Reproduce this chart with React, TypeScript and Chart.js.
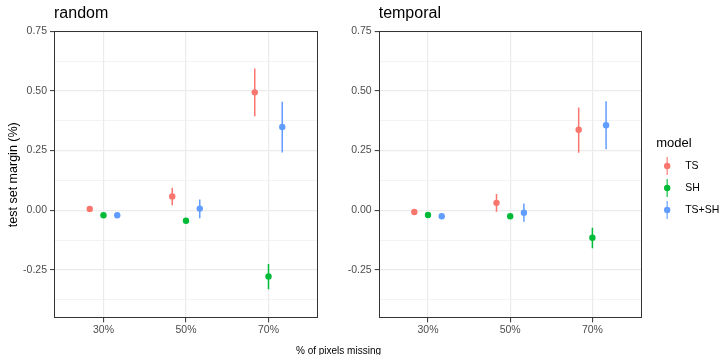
import React, { useEffect, useRef } from "react";
import { Chart, registerables } from "chart.js";

Chart.register(...registerables);

// ---------- data ----------
const categories = ["30%", "50%", "70%"];
const models = ["TS", "SH", "TS+SH"];
const yTickValues = [-0.25, 0, 0.25, 0.5, 0.75];

// panel "random"
const randomTS = [0.005, 0.058, 0.494];
const randomTSLow = [-0.004, 0.021, 0.394];
const randomTSHigh = [0.014, 0.094, 0.594];
const randomSH = [-0.021, -0.044, -0.277];
const randomSHLow = [-0.029, -0.052, -0.331];
const randomSHHigh = [-0.013, -0.036, -0.225];
const randomTSSH = [-0.021, 0.007, 0.349];
const randomTSSHLow = [-0.029, -0.033, 0.242];
const randomTSSHHigh = [-0.013, 0.045, 0.455];

// panel "temporal"
const temporalTS = [-0.007, 0.031, 0.337];
const temporalTSLow = [-0.015, -0.006, 0.241];
const temporalTSHigh = [0.001, 0.068, 0.431];
const temporalSH = [-0.02, -0.025, -0.115];
const temporalSHLow = [-0.028, -0.033, -0.159];
const temporalSHHigh = [-0.012, -0.017, -0.073];
const temporalTSSH = [-0.025, -0.01, 0.356];
const temporalTSSHLow = [-0.033, -0.048, 0.256];
const temporalTSSHHigh = [-0.017, 0.028, 0.457];

// ---------- style ----------
const FONT = '"Liberation Sans", Arial, Helvetica, sans-serif';
const COLORS = ["#F8766D", "#00BA38", "#619CFF"];
const DODGE = [-1 / 6, 0, 1 / 6];
const Y_MIN = -0.453;
const Y_MAX = 0.751;

const yAllTicks = (() => {
  const out: number[] = [];
  yTickValues.forEach((v) => {
    const m = v - 0.125;
    if (m >= Y_MIN) out.push(m);
    out.push(v);
  });
  return out;
})();
const isMajorY = (v: number) => yTickValues.some((t) => Math.abs(t - v) < 1e-9);

function buildDatasets(means: number[][], lows: number[][], highs: number[][]) {
  return models.map((m, mi) => ({
    label: m,
    data: categories.map((_, ci) => ({
      x: ci + 1 + DODGE[mi],
      y: means[mi][ci],
      low: lows[mi][ci],
      high: highs[mi][ci],
    })),
    backgroundColor: COLORS[mi],
    borderColor: COLORS[mi],
    borderWidth: 0,
    pointRadius: 3.2,
    pointHoverRadius: 3.2,
  }));
}

const errorBarsPlugin = {
  id: "errorBars",
  beforeDatasetsDraw(chart: any) {
    const { ctx, chartArea, scales } = chart;
    const x = scales.x;
    const y = scales.y;
    ctx.save();
    ctx.beginPath();
    ctx.rect(chartArea.left, chartArea.top, chartArea.right - chartArea.left, chartArea.bottom - chartArea.top);
    ctx.clip();
    chart.data.datasets.forEach((ds: any) => {
      ctx.strokeStyle = ds.borderColor;
      ctx.lineWidth = 1.5;
      ds.data.forEach((p: any) => {
        const px = x.getPixelForValue(p.x);
        ctx.beginPath();
        ctx.moveTo(px, y.getPixelForValue(p.low));
        ctx.lineTo(px, y.getPixelForValue(p.high));
        ctx.stroke();
      });
    });
    ctx.restore();
  },
};

const borderPlugin = {
  id: "panelBorder",
  afterDatasetsDraw(chart: any) {
    const { ctx, chartArea } = chart;
    ctx.save();
    ctx.strokeStyle = "#333333";
    ctx.lineWidth = 1;
    ctx.strokeRect(
      Math.round(chartArea.left) + 0.5,
      Math.round(chartArea.top) + 0.5,
      Math.round(chartArea.right - chartArea.left) - 1,
      Math.round(chartArea.bottom - chartArea.top) - 1
    );
    ctx.restore();
  },
};

const xTitlePlugin = {
  id: "xTitle",
  afterDraw(chart: any) {
    const { ctx } = chart;
    ctx.save();
    ctx.fillStyle = "#000000";
    ctx.font = `10px ${FONT}`;
    ctx.textAlign = "center";
    ctx.textBaseline = "alphabetic";
    ctx.fillText("% of pixels missing", 338.5, 354);
    ctx.restore();
  },
};

const legendPlugin = {
  id: "ggLegend",
  afterDraw(chart: any) {
    const { ctx, chartArea } = chart;
    const x0 = chartArea.right + 14.5;
    const titleY = 143;
    ctx.save();
    ctx.fillStyle = "#000000";
    ctx.font = `13px ${FONT}`;
    ctx.textAlign = "left";
    ctx.textBaseline = "middle";
    ctx.fillText("model", x0, titleY);
    chart.data.datasets.forEach((ds: any, i: number) => {
      const cy = 166 + i * 22;
      const kx = x0 + 11;
      ctx.globalAlpha = 0.75;
      ctx.strokeStyle = ds.borderColor;
      ctx.lineWidth = 1.5;
      ctx.beginPath();
      ctx.moveTo(kx, cy - 9);
      ctx.lineTo(kx, cy + 9);
      ctx.stroke();
      ctx.globalAlpha = 1;
      ctx.fillStyle = ds.backgroundColor;
      ctx.beginPath();
      ctx.arc(kx, cy, 3.2, 0, Math.PI * 2);
      ctx.fill();
      ctx.fillStyle = "#000000";
      ctx.font = `10.5px ${FONT}`;
      ctx.fillText(ds.label, x0 + 29, cy);
    });
    ctx.restore();
  },
};

function makeOptions(title: string, yAxisWidth: number, showYTitle: boolean, padRight: number) {
  return {
    responsive: false,
    animation: false as const,
    events: [] as any[],
    layout: { padding: { left: 0, right: padRight, top: 0, bottom: 18 } },
    plugins: {
      legend: { display: false },
      tooltip: { enabled: false },
      title: {
        display: true,
        text: title,
        align: "start" as const,
        fullSize: false,
        color: "#000000",
        font: { family: FONT, size: 16, weight: "normal" as const },
        padding: { top: 4, bottom: 7.8 },
      },
    },
    scales: {
      x: {
        type: "linear" as const,
        min: 0.4,
        max: 3.6,
        afterBuildTicks: (scale: any) => {
          scale.ticks = categories.map((_, i) => ({ value: i + 1 }));
        },
        ticks: {
          autoSkip: false,
          maxRotation: 0,
          padding: 1,
          color: "#4D4D4D",
          font: { family: FONT, size: 10.5 },
          callback: (v: any) => categories[Math.round(Number(v)) - 1] ?? "",
        },
        grid: {
          color: "#EBEBEB",
          lineWidth: 1.2,
          drawTicks: true,
          tickLength: 4,
          tickColor: "#333333",
          tickWidth: 1,
        },
        border: { display: false },
      },
      y: {
        type: "linear" as const,
        min: Y_MIN,
        max: Y_MAX,
        afterBuildTicks: (scale: any) => {
          scale.ticks = yAllTicks.map((v) => ({ value: v }));
        },
        afterFit: (scale: any) => {
          scale.width = yAxisWidth;
        },
        title: {
          display: showYTitle,
          text: "test set margin (%)",
          color: "#000000",
          font: { family: FONT, size: 12.5 },
          padding: { top: 6, bottom: 0 },
        },
        ticks: {
          autoSkip: false,
          padding: 3,
          color: "#4D4D4D",
          font: { family: FONT, size: 10.5 },
          callback: (v: any) => (isMajorY(Number(v)) ? Number(v).toFixed(2) : ""),
        },
        grid: {
          color: "#EBEBEB",
          lineWidth: (c: any) => (c.tick && isMajorY(c.tick.value) ? 1.2 : 0.6),
          drawTicks: true,
          tickLength: 4,
          tickColor: (c: any) => (c.tick && isMajorY(c.tick.value) ? "#333333" : "rgba(0,0,0,0)"),
          tickWidth: 1,
        },
        border: { display: false },
      },
    },
  };
}

export default function App() {
  const leftRef = useRef<HTMLCanvasElement | null>(null);
  const rightRef = useRef<HTMLCanvasElement | null>(null);

  useEffect(() => {
    const left = new Chart(leftRef.current as HTMLCanvasElement, {
      type: "scatter",
      data: {
        datasets: buildDatasets(
          [randomTS, randomSH, randomTSSH],
          [randomTSLow, randomSHLow, randomTSSHLow],
          [randomTSHigh, randomSHHigh, randomTSSHHigh]
        ) as any,
      },
      options: makeOptions("random", 54, true, 404) as any,
      plugins: [errorBarsPlugin, borderPlugin, xTitlePlugin],
    });
    const right = new Chart(rightRef.current as HTMLCanvasElement, {
      type: "scatter",
      data: {
        datasets: buildDatasets(
          [temporalTS, temporalSH, temporalTSSH],
          [temporalTSLow, temporalSHLow, temporalTSSHLow],
          [temporalTSHigh, temporalSHHigh, temporalTSSHHigh]
        ) as any,
      },
      options: makeOptions("temporal", 48.7, false, 80.3) as any,
      plugins: [errorBarsPlugin, borderPlugin, legendPlugin],
    });
    return () => {
      left.destroy();
      right.destroy();
    };
  }, []);

  return (
    <div style={{ position: "absolute", left: 0, top: 0, width: 722, height: 355, background: "#ffffff", overflow: "hidden" }}>
      <canvas ref={leftRef} width={722} height={355} style={{ position: "absolute", left: 0, top: 0, width: 722, height: 355 }} />
      <canvas ref={rightRef} width={392} height={355} style={{ position: "absolute", left: 330, top: 0, width: 392, height: 355 }} />
    </div>
  );
}
